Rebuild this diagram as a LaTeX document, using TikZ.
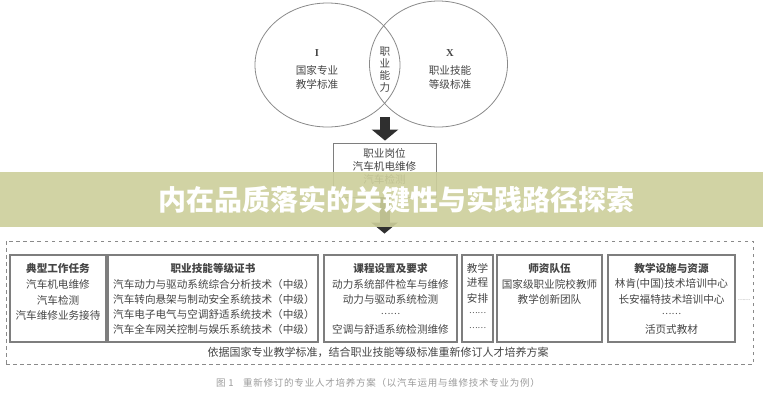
\documentclass[tikz,border=0pt]{standalone}
\usepackage{fontspec}
\setmainfont{Noto Sans CJK SC}
\newfontfamily\latinserif{Liberation Serif}
\newfontfamily\capfont[LetterSpace=8]{Noto Sans CJK SC}
\usetikzlibrary{shapes.geometric,arrows.meta,calc}
\definecolor{txtc}{HTML}{454545}
\definecolor{linec}{HTML}{8A8A8A}
\definecolor{boxc}{HTML}{7E7E7E}
\definecolor{arrc}{HTML}{2F2F2F}
\definecolor{capc}{HTML}{9C9C9C}
\definecolor{bannerc}{HTML}{CDCF9B}
\begin{document}
\begin{tikzpicture}[x=1pt,y=-1pt,
  every node/.style={inner sep=0pt,text=txtc},
  body/.style={font=\fontsize{10.6}{13}\selectfont},
  head/.style={font=\fontsize{10.6}{13}\selectfont\bfseries},
  dots/.style={font=\fontsize{9}{9}\selectfont},
  vennc/.style={draw=linec,line width=0.8pt,ellipse},
  card/.style={draw=boxc,line width=1.2pt,rectangle,minimum height=87pt},
  bigarrow/.style={draw=arrc,line width=10pt,-{Triangle[width=26pt,length=11pt]}},
]
\useasboundingbox (0,0) rectangle (763,400);
\fill[white] (0,0) rectangle (763,400);

% Venn
\node[vennc,minimum width=145pt,minimum height=124pt] (L) at (327.5,65) {};
\node[vennc,minimum width=138pt,minimum height=126pt] (R) at (438.5,64) {};
\node[body] (Li) at (317,53) {\latinserif\bfseries I};
\node[body] (L1) at (317,70) {国家专业};
\node[body] (L2) at (317,84) {教学标准};
\node[body] (Rx) at (450,53) {\latinserif\bfseries X};
\node[body] (R1) at (450,70) {职业技能};
\node[body] (R2) at (450,84) {等级标准};
\node[font=\fontsize{10.6}{12}\selectfont,align=center] (mid) at (385,70) {职\\业\\能\\力};

% post box
\node[draw=boxc,line width=0.9pt,minimum width=103pt,minimum height=54pt] (post) at (384.5,170) {};
\node[body] (p1) at (384.5,153) {职业岗位};
\node[body] (p2) at (384.5,166) {汽车机电维修};
\node[body] (p3) at (384.5,179) {汽车检测};

% outer dashed frame
\node[draw=linec,line width=0.9pt,dash pattern=on 3.5pt off 3.5pt,minimum width=747pt,minimum height=123pt] (outer) at (379.5,302.5) {};

% arrows
\coordinate (a1) at (385,117);
\draw[bigarrow,shorten >=2pt] (a1) -- (a1 |- post.north);
\draw[bigarrow,shorten >=7pt] (post.south) -- (post.south |- outer.north);

% cards
\node[card,minimum width=96pt] (b1) at (58,298.5) {};
\node[card,minimum width=210pt] (b2) at (213,298.5) {};
\node[card,minimum width=133pt] (b3) at (390.5,298.5) {};
\node[card,minimum width=31pt] (b4) at (477.5,298.5) {};
\node[card,minimum width=105pt] (b5) at (549.5,298.5) {};
\node[card,minimum width=127pt] (b6) at (671.5,298.5) {};

% card 1
\node[head] (t1) at (58,268) {典型工作任务};
\node[body] (t1a) at (58,284) {汽车机电维修};
\node[body] (t1b) at (58,300) {汽车检测};
\node[body] (t1c) at (58,315) {汽车维修业务接待};
% card 2
\node[head] (t2) at (213,268) {职业技能等级证书};
\node[body,anchor=west] (t2a) at (113,284) {汽车动力与驱动系统综合分析技术（中级）};
\node[body,anchor=west] (t2b) at (113,299) {汽车转向悬架与制动安全系统技术（中级）};
\node[body,anchor=west] (t2c) at (113,314) {汽车电子电气与空调舒适系统技术（中级）};
\node[body,anchor=west] (t2d) at (113,329) {汽车全车网关控制与娱乐系统技术（中级）};
% card 3
\node[head] (t3) at (390.5,268) {课程设置及要求};
\node[body] (t3a) at (390.5,284) {动力系统部件检车与维修};
\node[body] (t3b) at (390.5,299) {动力与驱动系统检测};
\node[dots] (t3c) at (390.5,314) {……};
\node[body] (t3d) at (390.5,329) {空调与舒适系统检测维修};
% card 4
\node[body] (t4a) at (477.5,268) {教学};
\node[body] (t4b) at (477.5,283) {进程};
\node[body] (t4c) at (477.5,298) {安排};
\node[font=\fontsize{8}{8}\selectfont] (t4d) at (477.5,313) {……};
\node[font=\fontsize{8}{8}\selectfont] (t4e) at (477.5,328) {……};
% card 5
\node[head] (t5) at (549.5,268) {师资队伍};
\node[body] (t5a) at (549.5,284) {国家级职业院校教师};
\node[body] (t5b) at (549.5,299) {教学创新团队};
% card 6
\node[head] (t6) at (671.5,268) {教学设施与资源};
\node[body] (t6a) at (671.5,284) {林肯(中国)技术培训中心};
\node[body] (t6b) at (671.5,299) {长安福特技术培训中心};
\node[dots] (t6c) at (671.5,314) {……};
\node[body] (t6d) at (671.5,329) {活页式教材};
% more
\node[font=\fontsize{5.5}{6}\selectfont] (more) at (744,300) {……};

% bottom texts
\node[font=\fontsize{11}{13}\selectfont] (basis) at (378,352) {依据国家专业教学标准，结合职业技能等级标准重新修订人才培养方案};
\node[font=\capfont\fontsize{9.5}{12}\selectfont,text=capc] (cap) at (378,383) {图 1\quad 重新修订的专业人才培养方案（以汽车运用与维修技术专业为例）};

% banner overlay
\fill[bannerc,fill opacity=0.9] (0,172) rectangle (763,227);
\node[font=\fontsize{28}{30}\selectfont\bfseries,text=white] (banner) at (396,199.5) {内在品质落实的关键性与实践路径探索};
\end{tikzpicture}
\end{document}
